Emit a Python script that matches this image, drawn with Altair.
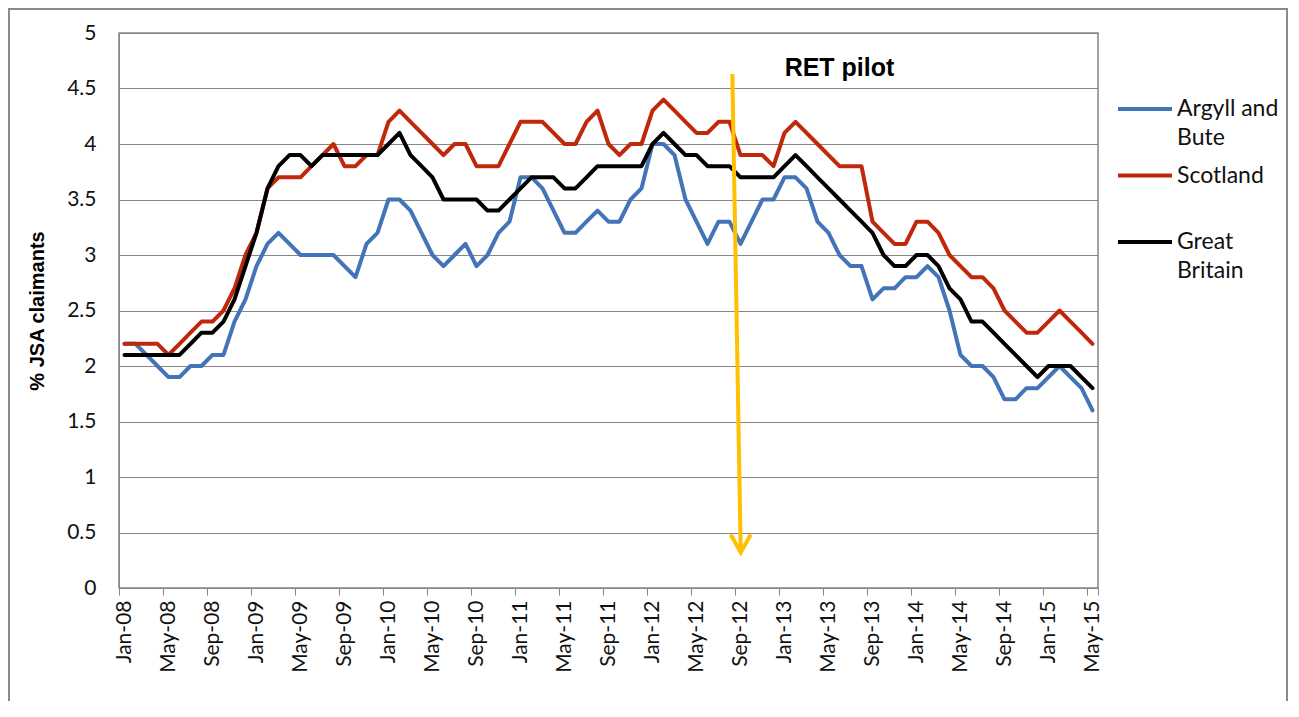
import altair as alt
import pandas as pd

MONTH_NAMES = ["Jan", "Feb", "Mar", "Apr", "May", "Jun", "Jul", "Aug", "Sep", "Oct", "Nov", "Dec"]
months = [f"{m}-{y:02d}" for y in range(8, 16) for m in MONTH_NAMES][:89]

series = ["Argyll and Bute", "Scotland", "Great Britain"]
legend_line1 = ["Argyll and", "Scotland", "Great"]
legend_line2 = ["Bute", "", "Britain"]
colors = ["#4374B7", "#C0280C", "#000000"]

argyll = [2.2, 2.2, 2.1, 2.0, 1.9, 1.9, 2.0, 2.0, 2.1, 2.1,
          2.4, 2.6, 2.9, 3.1, 3.2, 3.1, 3.0, 3.0, 3.0, 3.0,
          2.9, 2.8, 3.1, 3.2, 3.5, 3.5, 3.4, 3.2, 3.0, 2.9,
          3.0, 3.1, 2.9, 3.0, 3.2, 3.3, 3.7, 3.7, 3.6, 3.4,
          3.2, 3.2, 3.3, 3.4, 3.3, 3.3, 3.5, 3.6, 4.0, 4.0,
          3.9, 3.5, 3.3, 3.1, 3.3, 3.3, 3.1, 3.3, 3.5, 3.5,
          3.7, 3.7, 3.6, 3.3, 3.2, 3.0, 2.9, 2.9, 2.6, 2.7,
          2.7, 2.8, 2.8, 2.9, 2.8, 2.5, 2.1, 2.0, 2.0, 1.9,
          1.7, 1.7, 1.8, 1.8, 1.9, 2.0, 1.9, 1.8, 1.6]
scotland = [2.2, 2.2, 2.2, 2.2, 2.1, 2.2, 2.3, 2.4, 2.4, 2.5,
            2.7, 3.0, 3.2, 3.6, 3.7, 3.7, 3.7, 3.8, 3.9, 4.0,
            3.8, 3.8, 3.9, 3.9, 4.2, 4.3, 4.2, 4.1, 4.0, 3.9,
            4.0, 4.0, 3.8, 3.8, 3.8, 4.0, 4.2, 4.2, 4.2, 4.1,
            4.0, 4.0, 4.2, 4.3, 4.0, 3.9, 4.0, 4.0, 4.3, 4.4,
            4.3, 4.2, 4.1, 4.1, 4.2, 4.2, 3.9, 3.9, 3.9, 3.8,
            4.1, 4.2, 4.1, 4.0, 3.9, 3.8, 3.8, 3.8, 3.3, 3.2,
            3.1, 3.1, 3.3, 3.3, 3.2, 3.0, 2.9, 2.8, 2.8, 2.7,
            2.5, 2.4, 2.3, 2.3, 2.4, 2.5, 2.4, 2.3, 2.2]
great_britain = [2.1, 2.1, 2.1, 2.1, 2.1, 2.1, 2.2, 2.3, 2.3, 2.4,
                 2.6, 2.9, 3.2, 3.6, 3.8, 3.9, 3.9, 3.8, 3.9, 3.9,
                 3.9, 3.9, 3.9, 3.9, 4.0, 4.1, 3.9, 3.8, 3.7, 3.5,
                 3.5, 3.5, 3.5, 3.4, 3.4, 3.5, 3.6, 3.7, 3.7, 3.7,
                 3.6, 3.6, 3.7, 3.8, 3.8, 3.8, 3.8, 3.8, 4.0, 4.1,
                 4.0, 3.9, 3.9, 3.8, 3.8, 3.8, 3.7, 3.7, 3.7, 3.7,
                 3.8, 3.9, 3.8, 3.7, 3.6, 3.5, 3.4, 3.3, 3.2, 3.0,
                 2.9, 2.9, 3.0, 3.0, 2.9, 2.7, 2.6, 2.4, 2.4, 2.3,
                 2.2, 2.1, 2.0, 1.9, 2.0, 2.0, 2.0, 1.9, 1.8]

y_ticks = [0, 0.5, 1, 1.5, 2, 2.5, 3, 3.5, 4, 4.5, 5]

# annotation (RET pilot arrow, in data units)
arrow_x = [55.26, 56.02]
arrow_y = [4.63, 0.32]
note_x = [65.0]
note_y = [4.61]
note_text = ["RET pilot"]

rows = []
for s, vals in zip(series, [argyll, scotland, great_britain]):
    for i, v in enumerate(vals):
        rows.append({"i": i, "month": months[i], "series": s, "value": v})
df = pd.DataFrame(rows)

tick_vals = [k - 0.5 for k in range(0, 89, 4)] + [88.5]
lab = months[::4]
label_expr = ("(round(datum.value + 0.5) % 4 == 0 && round(datum.value + 0.5) <= 88) ? ["
              + ",".join(f"'{m}'" for m in lab)
              + "][round((datum.value + 0.5) / 4)] : ''")

GRID = "#868686"
LABEL_FONT = "Lato"

x_scale = alt.Scale(domain=[-0.5, 88.5], nice=False, zero=False)
y_scale = alt.Scale(domain=[0, 5], nice=False, zero=True)
color_scale = alt.Scale(domain=series, range=colors)

x_axis = alt.Axis(values=tick_vals, labelExpr=label_expr, labelAngle=270, labelOffset=5.5,
                  tickSize=7, tickColor=GRID, domainColor=GRID, grid=False,
                  labelFont=LABEL_FONT, labelFontSize=21, labelColor="#111111",
                  labelPadding=5, labelOverlap=False, labelFlush=False, labelBound=False,
                  title=None)
y_axis = alt.Axis(values=y_ticks, format=".1~f", ticks=False, tickSize=0, labelPadding=23,
                  grid=True, gridColor=GRID, gridWidth=1, domainColor=GRID,
                  labelFont=LABEL_FONT, labelFontSize=21, labelColor="#111111",
                  title="% JSA claimants", titleFont="Liberation Sans", titleFontWeight="bold",
                  titleFontSize=20, titleColor="#000000", titleX=-82, titleY=277.5,
                  titleBaseline="middle", titleAngle=270)


def X(field):
    return alt.X(field, scale=x_scale, axis=x_axis)


def Y(field):
    return alt.Y(field, scale=y_scale, axis=y_axis)


base = alt.Chart(df)
line_layers = []
for s in series:
    line_layers.append(
        base.transform_filter(alt.datum.series == s)
        .mark_line(strokeWidth=4, strokeJoin="round", strokeCap="round")
        .encode(x=X("i:Q"), y=Y("value:Q"),
                color=alt.Color("series:N", scale=color_scale, legend=None))
    )

arrow_df = pd.DataFrame({"x": arrow_x, "y": arrow_y})
arrow_line = alt.Chart(arrow_df).mark_line(color="#FFC000", strokeWidth=4).encode(
    x=X("x:Q"), y=Y("y:Q"))
arrow_head = alt.Chart(arrow_df.iloc[[1]]).mark_point(
    shape="M-1,-1.8L0,0L1,-1.8", size=400, filled=False, stroke="#FFC000",
    strokeWidth=4, opacity=1, strokeJoin="miter").encode(
    x=X("x:Q"), y=Y("y:Q"))

note_df = pd.DataFrame({"x": note_x, "y": note_y, "t": note_text})
note = alt.Chart(note_df).mark_text(font="Liberation Sans", fontWeight="bold", fontSize=25,
                                    align="center", baseline="alphabetic", color="#000000").encode(
    x=X("x:Q"), y=Y("y:Q"), text="t:N")

border = alt.Chart(pd.DataFrame({"a": [0]})).mark_rect(
    fillOpacity=0, stroke="#8a8a8a", strokeWidth=2).encode(
    x=alt.value(-110), x2=alt.value(1168), y=alt.value(-24), y2=alt.value(760))

main = alt.layer(*line_layers, arrow_line, arrow_head, note, border)

leg_df = pd.DataFrame({"series": series, "l1": legend_line1, "l2": legend_line2,
                       "rank": [0, 1, 2]})
leg_y = alt.Y("rank:O", scale=alt.Scale(type="point", range=[76, 209], padding=0), axis=None)
leg_rule = alt.Chart(leg_df).mark_rule(strokeWidth=4).encode(
    x=alt.value(999), x2=alt.value(1053), y=leg_y,
    color=alt.Color("series:N", scale=color_scale, legend=None))
leg_t1 = alt.Chart(leg_df).mark_text(align="left", baseline="middle", font=LABEL_FONT,
                                     fontSize=23, color="#111111").encode(
    x=alt.value(1058), y=leg_y, text="l1:N")
leg_t2 = alt.Chart(leg_df).mark_text(align="left", baseline="middle", font=LABEL_FONT,
                                     fontSize=23, color="#111111", dy=28.5).encode(
    x=alt.value(1058), y=leg_y, text="l2:N")
legend = alt.layer(leg_rule, leg_t1, leg_t2)

chart = alt.layer(main, legend).resolve_scale(y="independent").properties(
    width=979, height=555,
    autosize=alt.AutoSizeParams(type="none"),
    padding={"left": 111, "top": 25, "right": 190, "bottom": 113},
    background="white",
).configure_view(stroke=GRID, strokeWidth=1.5)

chart.save("out.html", embed_options={"renderer": "svg", "actions": False})
